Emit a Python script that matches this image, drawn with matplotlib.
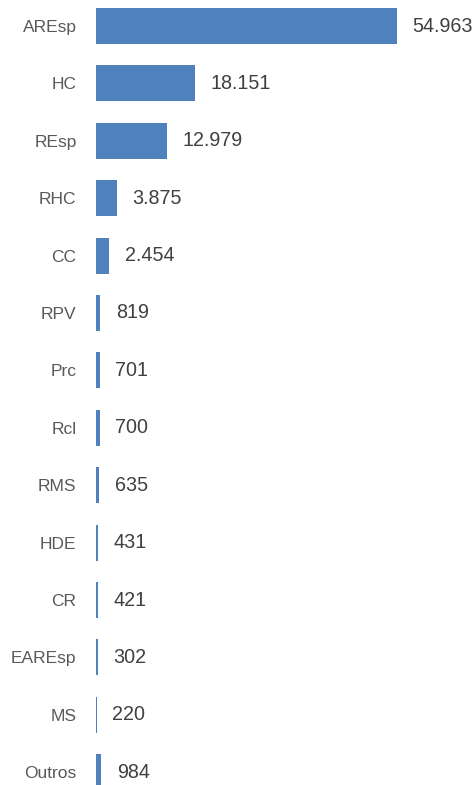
import matplotlib
matplotlib.use("Agg")
import matplotlib.pyplot as plt

categories = ["AREsp", "HC", "REsp", "RHC", "CC", "RPV", "Prc", "Rcl", "RMS", "HDE", "CR", "EAREsp", "MS", "Outros"]
values = [54963, 18151, 12979, 3875, 2454, 819, 701, 700, 635, 431, 421, 302, 220, 984]

def fmt(v):
    return f"{v:,}".replace(",", ".")

W, H = 476, 785
fig = plt.figure(figsize=(W / 100, H / 100), dpi=100)
left_px, x0_px, xmax_px = 96, 96, 397
xmax = 66000
ax_w_px = xmax * (xmax_px - x0_px) / values[0]
ax = fig.add_axes([left_px / W, 0, ax_w_px / W, 1])

pos = list(range(len(categories)))
ax.barh(pos, values, height=0.63, color="#4f81bd")
ax.set_xlim(0, xmax)
step = 57.4
ax.set_ylim((H - 26) / step, -26 / step)

fam = ["Liberation Sans", "DejaVu Sans"]
ax.set_yticks(pos)
ax.set_yticklabels(categories, fontsize=12.5, color="#595959", family=fam)
ax.tick_params(axis="y", length=0, pad=14)
ax.set_xticks([])
for s in ax.spines.values():
    s.set_visible(False)

for p, v in zip(pos, values):
    ax.annotate(fmt(v), (v, p), xytext=(11, 0), textcoords="offset points",
                va="center", ha="left", fontsize=14.2, color="#404040", family=fam)

fig.savefig("out.png", dpi=100)
